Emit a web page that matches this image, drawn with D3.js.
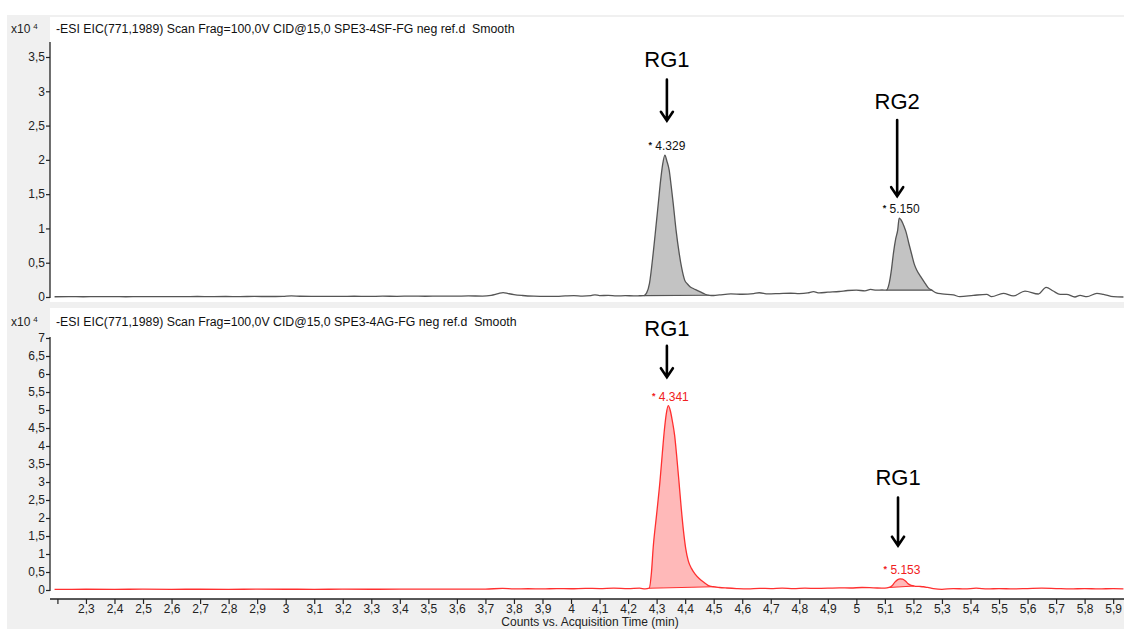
<!DOCTYPE html>
<html>
<head>
<meta charset="utf-8">
<script src="https://cdn.jsdelivr.net/npm/d3@7/dist/d3.min.js"></script>
<style>
  body { margin: 0; background: #fff; }
  svg { display: block; }
  text { font-family: "Liberation Sans", Arial, sans-serif; white-space: pre; }
</style>
</head>
<body>
<svg id="chart" width="1124" height="629"></svg>
<script>
// ---------- data: time (min) and intensity (x10^4 counts) ----------
const titleTop = "-ESI EIC(771,1989) Scan Frag=100,0V CID@15,0 SPE3-4SF-FG neg ref.d  Smooth";
const titleBottom = "-ESI EIC(771,1989) Scan Frag=100,0V CID@15,0 SPE3-4AG-FG neg ref.d  Smooth";
const xTitle = "Counts vs. Acquisition Time (min)";

const topTimes = [
  2.19, 2.24, 2.29, 2.34, 2.39, 2.44, 2.49, 2.54, 2.59, 2.64, 2.69, 2.74, 2.79, 2.84, 2.89, 2.94,
  2.99, 3.02, 3.05, 3.09, 3.14, 3.19, 3.24, 3.29, 3.34, 3.39, 3.44, 3.49, 3.54, 3.59, 3.64, 3.69,
  3.72, 3.745, 3.762, 3.78, 3.80, 3.83, 3.87, 3.91, 3.95, 3.98, 4.01, 4.04, 4.07, 4.084, 4.10,
  4.13, 4.16, 4.19, 4.22, 4.24,
  4.255, 4.265, 4.275, 4.288, 4.297, 4.306, 4.314, 4.321, 4.329, 4.336, 4.344, 4.351, 4.358,
  4.368, 4.379, 4.388, 4.398, 4.408, 4.417, 4.43, 4.44, 4.455, 4.47, 4.485, 4.50,
  4.52, 4.56, 4.60, 4.64, 4.66, 4.69, 4.73, 4.77, 4.80, 4.83, 4.85, 4.87, 4.90, 4.94, 4.97, 5.00,
  5.03, 5.05, 5.07, 5.09,
  5.105, 5.115, 5.123, 5.13, 5.138, 5.145, 5.15, 5.16, 5.168, 5.174, 5.184, 5.194, 5.203, 5.212,
  5.225, 5.241, 5.253, 5.264, 5.28, 5.30, 5.34,
  5.363, 5.41, 5.457, 5.474, 5.515, 5.55, 5.591, 5.638, 5.665, 5.69, 5.714, 5.737, 5.766, 5.784,
  5.808, 5.843, 5.866, 5.901, 5.936
];
const topCounts = [
  0.004, 0.005, 0.004, 0.006, 0.005, 0.004, 0.006, 0.005, 0.006, 0.005, 0.007, 0.006, 0.007, 0.006, 0.008, 0.007,
  0.010, 0.016, 0.011, 0.009, 0.010, 0.008, 0.011, 0.009, 0.012, 0.010, 0.013, 0.011, 0.014, 0.012, 0.015, 0.014,
  0.025, 0.050, 0.065, 0.050, 0.035, 0.022, 0.012, 0.008, 0.010, 0.016, 0.020, 0.014, 0.020, 0.032, 0.020,
  0.024, 0.015, 0.020, 0.016, 0.018,
  0.020, 0.060, 0.200, 0.640, 1.000, 1.370, 1.700, 1.930, 2.070, 1.980, 1.850, 1.620, 1.370,
  0.980, 0.640, 0.420, 0.250, 0.190, 0.150, 0.120, 0.100, 0.070, 0.040, 0.025, 0.022,
  0.030, 0.045, 0.040, 0.050, 0.062, 0.045, 0.050, 0.055, 0.050, 0.060, 0.078, 0.060, 0.070, 0.080, 0.095, 0.100,
  0.090, 0.110, 0.100, 0.102,
  0.100, 0.200, 0.400, 0.640, 0.850, 0.980, 1.150, 1.100, 1.020, 0.950, 0.780, 0.620, 0.480, 0.390,
  0.300, 0.200, 0.130, 0.100, 0.060, 0.045, 0.030,
  0.005, 0.024, 0.039, 0.005, 0.053, 0.015, 0.087, 0.044, 0.141, 0.087, 0.039, 0.039, 0.000, 0.024,
  0.005, 0.053, 0.039, 0.005, 0.000
];

const bottomTimes = [
  2.19, 2.25, 2.30, 2.40, 2.50, 2.60, 2.70, 2.80, 2.90, 3.00, 3.10, 3.20, 3.30, 3.40, 3.50, 3.60,
  3.70, 3.76, 3.80, 3.85, 3.90, 3.95, 4.00, 4.05, 4.10, 4.15, 4.20, 4.24,
  4.26, 4.274, 4.282, 4.288, 4.30, 4.312, 4.32, 4.327, 4.334, 4.341, 4.348, 4.355, 4.363, 4.37,
  4.378, 4.386, 4.394, 4.402, 4.411, 4.422, 4.435, 4.45, 4.464, 4.48, 4.499, 4.52, 4.546, 4.58,
  4.62, 4.66, 4.70, 4.74, 4.78, 4.82, 4.86, 4.90, 4.94, 4.98, 5.02, 5.06, 5.10,
  5.115, 5.125, 5.135, 5.145, 5.153, 5.162, 5.172, 5.182, 5.192, 5.203, 5.22, 5.235, 5.25, 5.27, 5.30,
  5.34, 5.38, 5.42, 5.46, 5.50, 5.55, 5.60, 5.65, 5.70, 5.75, 5.80, 5.85, 5.90, 5.936
];
const bottomCounts = [
  0.020, 0.020, 0.021, 0.020, 0.022, 0.020, 0.021, 0.020, 0.022, 0.021, 0.020, 0.022, 0.021, 0.022, 0.023, 0.022,
  0.025, 0.045, 0.030, 0.035, 0.030, 0.040, 0.035, 0.045, 0.040, 0.050, 0.040, 0.050,
  0.030, 0.050, 0.500, 1.180, 2.100, 3.040, 3.800, 4.430, 4.900, 5.120, 4.980, 4.700, 4.300, 3.750,
  3.040, 2.300, 1.650, 1.150, 0.810, 0.600, 0.440, 0.310, 0.220, 0.130, 0.090, 0.070, 0.055, 0.040,
  0.030, 0.045, 0.040, 0.050, 0.040, 0.050, 0.045, 0.050, 0.060, 0.055, 0.070, 0.060, 0.050,
  0.070, 0.120, 0.220, 0.290, 0.310, 0.300, 0.250, 0.170, 0.130, 0.110, 0.100, 0.090, 0.070, 0.040, 0.020,
  0.040, 0.030, 0.050, 0.030, 0.040, 0.030, 0.040, 0.050, 0.040, 0.030, 0.040, 0.030, 0.040, 0.030
];

// integrated peaks: retention time label and integration window [start, end]
const topPeakRT = ["4.329", "5.150"];
const topPeakWindows = [[4.255, 4.485], [5.105, 5.264]];
const bottomPeakRT = ["4.341", "5.153"];
const bottomPeakWindows = [[4.274, 4.499], [5.115, 5.203]];

// axis ticks
const xTicks = [2.2, 2.3, 2.4, 2.5, 2.6, 2.7, 2.8, 2.9, 3, 3.1, 3.2, 3.3, 3.4, 3.5, 3.6, 3.7, 3.8, 3.9,
  4, 4.1, 4.2, 4.3, 4.4, 4.5, 4.6, 4.7, 4.8, 4.9, 5, 5.1, 5.2, 5.3, 5.4, 5.5, 5.6, 5.7, 5.8, 5.9];
const topYTicks = [0, 0.5, 1, 1.5, 2, 2.5, 3, 3.5];
const bottomYTicks = [0, 0.5, 1, 1.5, 2, 2.5, 3, 3.5, 4, 4.5, 5, 5.5, 6, 6.5, 7];

// compound annotations: label, time, text baseline level, arrow start and tip levels (x10^4)
const topNotes = [
  { label: "RG1", t: 4.336, textV: 3.36, fromV: 3.17, toV: 2.57 },
  { label: "RG2", t: 5.143, textV: 2.74, fromV: 2.58, toV: 1.47 }
];
const bottomNotes = [
  { label: "RG1", t: 4.336, textV: 7.06, fromV: 6.78, toV: 5.91 },
  { label: "RG1", t: 5.146, textV: 2.93, fromV: 2.57, toV: 1.23 }
];

// ---------- drawing ----------
const svg = d3.select("#chart");
const W = 1124, H = 629;
const plotLeft = 50;
const tickFont = 12;

const x = d3.scaleLinear().domain([2.174, 5.938]).range([plotLeft, W]);
const yTop = d3.scaleLinear().domain([0, 3.5]).range([297, 57]);
const yBot = d3.scaleLinear().domain([0, 7]).range([590, 338]);

const commaFmt = v => String(v).replace(".", ",");

// frame: grey surround with white plot areas
svg.append("rect").attr("x", 7).attr("y", 15).attr("width", W - 7).attr("height", H - 15).attr("fill", "#f0f0f0");
svg.append("rect").attr("x", plotLeft).attr("y", 17).attr("width", W - plotLeft).attr("height", 285).attr("fill", "#fff");
svg.append("rect").attr("x", plotLeft).attr("y", 308).attr("width", W - plotLeft).attr("height", 291).attr("fill", "#fff");

function panel(times, counts, y, windows, rtLabels, notes, yTicks, topOfAxis, style, title, headerY) {
  const pts = times.map((t, i) => ({ t, v: counts[i] }));
  const g = svg.append("g");

  // integrated peak fills and their baselines
  windows.forEach(([t0, t1]) => {
    const seg = pts.filter(p => p.t >= t0 - 1e-9 && p.t <= t1 + 1e-9);
    const a = seg[0], b = seg[seg.length - 1];
    const base = t => a.v + (b.v - a.v) * (t - a.t) / (b.t - a.t);
    g.append("path")
      .attr("d", d3.area().x(p => x(p.t)).y0(p => y(base(p.t))).y1(p => y(p.v)).curve(d3.curveMonotoneX)(seg))
      .attr("fill", style.fill);
    g.append("line")
      .attr("x1", x(a.t)).attr("y1", y(a.v)).attr("x2", x(b.t)).attr("y2", y(b.v))
      .attr("stroke", style.stroke).attr("stroke-width", 1.1);
  });

  // chromatogram trace
  g.append("path")
    .attr("d", d3.line().x(p => x(p.t)).y(p => y(p.v)).curve(d3.curveMonotoneX)(pts))
    .attr("fill", "none").attr("stroke", style.stroke).attr("stroke-width", 1.3)
    .attr("stroke-linejoin", "round");

  // retention time labels above each apex
  windows.forEach(([t0, t1], i) => {
    const seg = pts.filter(p => p.t >= t0 && p.t <= t1);
    const apex = seg.reduce((m, p) => p.v > m.v ? p : m, seg[0]);
    const txt = g.append("text")
      .attr("x", x(apex.t) + 2).attr("y", y(apex.v) - 5)
      .attr("text-anchor", "middle").attr("font-size", 12).attr("fill", style.label);
    txt.append("tspan").attr("font-size", 9).attr("font-weight", "bold").attr("dy", -2).text("*");
    txt.append("tspan").attr("dy", 2).text(" " + rtLabels[i]);
  });

  // y axis
  const ax = svg.append("g").attr("transform", `translate(${plotLeft},0)`)
    .call(d3.axisLeft(y).tickValues(yTicks).tickSize(4).tickSizeOuter(0).tickFormat(commaFmt));
  ax.select(".domain").remove();
  ax.append("line").attr("x1", 0).attr("x2", 0).attr("y1", y(0) + 1).attr("y2", topOfAxis)
    .attr("stroke", "#222").attr("stroke-width", 1.3);
  ax.selectAll(".tick line").attr("stroke", "#222").attr("stroke-width", 1.2);
  ax.selectAll(".tick text").attr("font-size", tickFont).attr("fill", "#222")
    .attr("font-family", "Liberation Sans, Arial, sans-serif").attr("x", -5);

  // header: scale factor and trace description
  const sc = svg.append("text").attr("x", 11).attr("y", headerY).attr("font-size", 12).attr("fill", "#222");
  sc.append("tspan").text("x10");
  sc.append("tspan").attr("font-size", 8).attr("dx", 3).attr("dy", -4).text("4");
  svg.append("text").attr("x", 56).attr("y", headerY).attr("font-size", 12.3).attr("fill", "#111").text(title);

  // compound annotations with arrows
  notes.forEach(n => {
    const cx = x(n.t);
    svg.append("text").attr("x", cx).attr("y", y(n.textV)).attr("text-anchor", "middle")
      .attr("font-family", "Lato, 'Open Sans', sans-serif").attr("font-size", 22).attr("fill", "#000")
      .text(n.label);
    const y1 = y(n.fromV), y2 = y(n.toV);
    svg.append("path")
      .attr("d", `M${cx},${y1}L${cx},${y2 - 1}M${cx - 6},${y2 - 9}L${cx},${y2}L${cx + 6},${y2 - 9}`)
      .attr("fill", "none").attr("stroke", "#000").attr("stroke-width", 2.6)
      .attr("stroke-linecap", "round").attr("stroke-linejoin", "miter");
  });
}

panel(topTimes, topCounts, yTop, topPeakWindows, topPeakRT, topNotes, topYTicks, 42,
  { stroke: "#555", fill: "#c3c3c3", label: "#111" }, titleTop, 33);
panel(bottomTimes, bottomCounts, yBot, bottomPeakWindows, bottomPeakRT, bottomNotes, bottomYTicks, 337,
  { stroke: "#ff2f2f", fill: "#ffb9b9", label: "#f02020" }, titleBottom, 326);

// time axis
const xa = svg.append("g").attr("transform", "translate(0,599)")
  .call(d3.axisBottom(x).tickValues(xTicks).tickSize(5).tickSizeOuter(0)
    .tickFormat(v => v === 2.2 ? "" : commaFmt(v)));
xa.select(".domain").remove();
xa.append("line").attr("x1", plotLeft).attr("x2", W).attr("stroke", "#222").attr("stroke-width", 1.3);
xa.selectAll(".tick line").attr("stroke", "#222").attr("stroke-width", 1.2);
xa.selectAll(".tick text").attr("font-size", tickFont).attr("fill", "#222")
  .attr("font-family", "Liberation Sans, Arial, sans-serif").attr("y", 5);

svg.append("text").attr("x", 590).attr("y", 625.5).attr("text-anchor", "middle")
  .attr("font-size", 12).attr("fill", "#222").text(xTitle);
</script>
</body>
</html>
